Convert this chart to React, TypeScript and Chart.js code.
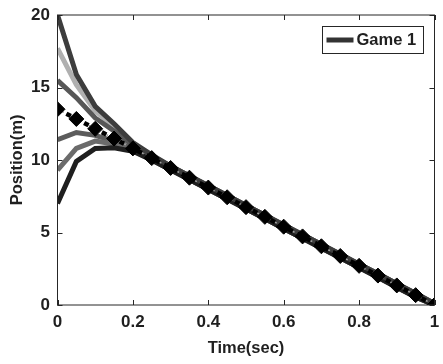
import React, { useEffect, useRef } from "react";
import { Chart, registerables } from "chart.js";

Chart.register(...registerables);

// Sample times (s)
const timeSec = [0, 0.05, 0.1, 0.15, 0.2, 0.25, 0.3, 0.35, 0.4, 0.45, 0.5, 0.55, 0.6, 0.65, 0.7, 0.75, 0.8, 0.85, 0.9, 0.95, 1];

// Reference trajectory (diamond markers)
const referencePos = [13.5, 12.83, 12.15, 11.48, 10.8, 10.13, 9.45, 8.78, 8.1, 7.43, 6.75, 6.08, 5.4, 4.73, 4.05, 3.38, 2.7, 2.03, 1.35, 0.68, 0];

// Converged parts of the trajectories, t = 0.3 .. 1
const upperTail = [9.57, 8.9, 8.22, 7.55, 6.87, 6.2, 5.52, 4.85, 4.17, 3.5, 2.82, 2.15, 1.47, 0.8, 0.1];
const lowerTail = [9.33, 8.66, 7.98, 7.31, 6.63, 5.96, 5.28, 4.61, 3.93, 3.26, 2.58, 1.91, 1.23, 0.56, 0];

// Trajectories from different initial positions, t = 0 .. 0.25
const game1Start = [20.0, 15.9, 13.7, 12.5, 11.2, 10.35];
const run2Start = [17.7, 15.2, 13.4, 12.3, 11.1, 10.3];
const run3Start = [15.5, 14.3, 12.9, 12.0, 11.0, 10.25];
const run4Start = [11.4, 11.9, 11.7, 11.3, 10.75, 10.05];
const run5Start = [9.3, 10.8, 11.3, 11.1, 10.65, 10.0];
const run6Start = [7.0, 9.9, 10.8, 10.85, 10.6, 10.0];

const game1 = [...game1Start, ...upperTail];
const run2 = [...run2Start, ...upperTail];
const run3 = [...run3Start, ...upperTail];
const run4 = [...run4Start, ...lowerTail];
const run5 = [...run5Start, ...lowerTail];
const run6 = [...run6Start, ...lowerTail];

const xTicks = [0, 0.2, 0.4, 0.6, 0.8, 1];
const yTicks = [0, 5, 10, 15, 20];
const legendLabel = "Game 1";

const FONT = "'Liberation Sans', Arial, Helvetica, sans-serif";
const INK = "#1f1f1f";

const pts = (ys: number[]) => ys.map((y, i) => ({ x: timeSec[i], y }));

// Box frame, inward ticks and the boxed legend
const framePlugin = {
  id: "frame",
  afterDatasetsDraw(chart: any) {
    const { ctx, chartArea: a, scales } = chart;
    const xs = scales.x;
    const ys = scales.y;
    ctx.save();
    ctx.strokeStyle = "#262626";
    ctx.lineWidth = 1;
    ctx.strokeRect(a.left, a.top, a.right - a.left, a.bottom - a.top);
    const len = 5;
    ctx.beginPath();
    xTicks.forEach((v) => {
      const px = Math.round(xs.getPixelForValue(v)) + 0.5;
      ctx.moveTo(px, a.bottom);
      ctx.lineTo(px, a.bottom - len);
      ctx.moveTo(px, a.top);
      ctx.lineTo(px, a.top + len);
    });
    yTicks.forEach((v) => {
      const py = Math.round(ys.getPixelForValue(v)) + 0.5;
      ctx.moveTo(a.left, py);
      ctx.lineTo(a.left + len, py);
      ctx.moveTo(a.right, py);
      ctx.lineTo(a.right - len, py);
    });
    ctx.stroke();

    // legend
    const bx = a.right - 112;
    const by = a.top + 11.5;
    const bw = 101;
    const bh = 27;
    ctx.fillStyle = "#ffffff";
    ctx.fillRect(bx, by, bw, bh);
    ctx.strokeStyle = "#262626";
    ctx.lineWidth = 1;
    ctx.strokeRect(bx, by, bw, bh);
    ctx.strokeStyle = "#333333";
    ctx.lineWidth = 5;
    ctx.beginPath();
    ctx.moveTo(bx + 4, by + bh / 2);
    ctx.lineTo(bx + 31, by + bh / 2);
    ctx.stroke();
    ctx.fillStyle = INK;
    ctx.font = `bold 16.5px ${FONT}`;
    ctx.textBaseline = "middle";
    ctx.textAlign = "left";
    ctx.fillText(legendLabel, bx + 34, by + bh / 2 + 0.5);
    ctx.restore();
  },
};

export default function App() {
  const ref = useRef<HTMLCanvasElement | null>(null);

  useEffect(() => {
    if (!ref.current) return;
    const curve = (label: string, data: number[], color: string) => ({
      label,
      data: pts(data),
      borderColor: color,
      backgroundColor: color,
      borderWidth: 5,
      pointRadius: 0,
      tension: 0,
      order: 2,
    });
    const chart = new Chart(ref.current, {
      type: "line",
      data: {
        datasets: [
          {
            label: "reference",
            data: pts(referencePos),
            borderColor: "#000000",
            backgroundColor: "#000000",
            borderWidth: 4.5,
            borderDash: [5, 5],
            pointStyle: "rectRot",
            pointRadius: 7.5,
            pointBorderWidth: 1,
            pointBorderColor: "#000000",
            pointBackgroundColor: "#000000",
            tension: 0,
            order: 0,
          },
          {
            label: "reference dots",
            data: pts(referencePos),
            borderColor: "#a0a0a0",
            borderWidth: 1.5,
            borderDash: [2, 3],
            pointRadius: 0,
            tension: 0,
            order: 1,
          },
          curve(legendLabel, game1, "#3d3d3d"),
          curve("run 6", run6, "#1f1f1f"),
          curve("run 5", run5, "#6b6b6b"),
          curve("run 4", run4, "#5c5c5c"),
          curve("run 3", run3, "#575757"),
          curve("run 2", run2, "#b0b0b0"),
        ],
      },
      options: {
        animation: false,
        responsive: false,
        maintainAspectRatio: false,
        layout: { padding: { top: 15, right: 3.5, left: 0, bottom: 0 } },
        plugins: {
          legend: { display: false },
          tooltip: { enabled: false },
        },
        scales: {
          x: {
            type: "linear",
            min: 0,
            max: 1,
            afterBuildTicks: (s: any) => {
              s.ticks = xTicks.map((v) => ({ value: v }));
            },
            afterFit: (s: any) => {
              s.height = 59;
              s.paddingLeft = 0;
              s.paddingRight = 0;
            },
            grid: { display: false, drawTicks: false },
            border: { display: false },
            ticks: {
              padding: 7,
              color: INK,
              font: { family: FONT, size: 17, weight: "bold" },
              maxRotation: 0,
              callback: (v: any) => String(Math.round(Number(v) * 10) / 10),
            },
            title: {
              display: true,
              text: "Time(sec)",
              color: INK,
              font: { family: FONT, size: 16.5, weight: "bold" },
              padding: { top: 0, bottom: 6 },
            },
          },
          y: {
            type: "linear",
            min: 0,
            max: 20,
            afterBuildTicks: (s: any) => {
              s.ticks = yTicks.map((v) => ({ value: v }));
            },
            afterFit: (s: any) => {
              s.width = 57.5;
              s.paddingTop = 0;
              s.paddingBottom = 0;
            },
            grid: { display: false, drawTicks: false },
            border: { display: false },
            ticks: {
              padding: 7.5,
              color: INK,
              font: { family: FONT, size: 17, weight: "bold" },
            },
            title: {
              display: true,
              text: "Position(m)",
              color: INK,
              font: { family: FONT, size: 16.5, weight: "bold" },
              padding: { top: 8, bottom: 0 },
            },
          },
        },
      },
      plugins: [framePlugin],
    });
    return () => chart.destroy();
  }, []);

  return (
    <div style={{ position: "fixed", left: 0, top: 0, width: 443, height: 364, background: "#fff" }}>
      <canvas ref={ref} width={443} height={364} style={{ width: 443, height: 364, display: "block" }} />
    </div>
  );
}
